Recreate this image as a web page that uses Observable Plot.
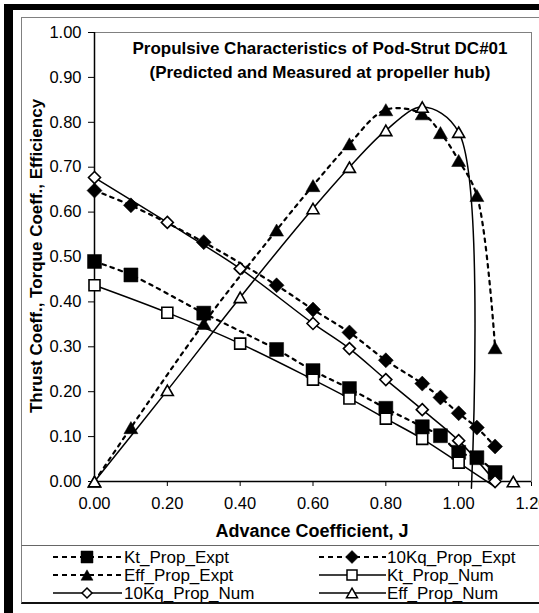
<!DOCTYPE html>
<html><head><meta charset="utf-8">
<script src="https://cdn.jsdelivr.net/npm/d3@7"></script>
<script src="https://cdn.jsdelivr.net/npm/@observablehq/plot@0.6"></script>
<style>
html,body{margin:0;padding:0;background:#fff;overflow:hidden;}
#wrap{position:relative;width:539px;height:613px;overflow:hidden;font-family:"Liberation Sans",Arial,sans-serif;color:#000;background:#fff;}
.abs{position:absolute;}
</style></head><body><div id="wrap"></div>
<script>
// ---- data ----
const xTicks = [0, 0.2, 0.4, 0.6, 0.8, 1.0, 1.2];
const yTicks = [0, 0.1, 0.2, 0.3, 0.4, 0.5, 0.6, 0.7, 0.8, 0.9, 1.0];

const J_expt    = [0, 0.1, 0.3, 0.5, 0.6, 0.7, 0.8, 0.9, 0.95, 1.0, 1.05, 1.1];
const Kt_expt   = [0.49, 0.46, 0.375, 0.294, 0.247, 0.207, 0.163, 0.122, 0.102, 0.065, 0.053, 0.02];
const Kq10_expt = [0.648, 0.615, 0.533, 0.437, 0.383, 0.332, 0.27, 0.218, 0.187, 0.152, 0.12, 0.078];
const Eff_expt  = [0, 0.12, 0.352, 0.56, 0.659, 0.752, 0.828, 0.819, 0.777, 0.715, 0.637, 0.298];

const J_num     = [0, 0.2, 0.4, 0.6, 0.7, 0.8, 0.9, 1.0, 1.1];
const Kt_num    = [0.437, 0.376, 0.307, 0.227, 0.185, 0.14, 0.095, 0.042, -0.012];
const Kq10_num  = [0.677, 0.577, 0.474, 0.352, 0.296, 0.227, 0.16, 0.091, 0.0];
const J_eff_num = [0, 0.2, 0.4, 0.6, 0.7, 0.8, 0.9, 1.0, 1.035];
const Eff_num   = [0, 0.203, 0.41, 0.608, 0.7, 0.782, 0.834, 0.778, -0.015];
const J_eff_num_end = [1.15];      // unconnected last point
const Eff_num_end   = [0];

const seriesNames = ["Kt_Prop_Expt", "10Kq_Prop_Expt", "Eff_Prop_Expt", "Kt_Prop_Num", "10Kq_Prop_Num", "Eff_Prop_Num"];

// ---- symbols ----
function mkSym(kind){
  return {draw(ctx, size){
    const r = Math.sqrt(size/Math.PI);
    if(kind==="square"){ctx.moveTo(-r,-r);ctx.lineTo(r,-r);ctx.lineTo(r,r);ctx.lineTo(-r,r);ctx.closePath();}
    else if(kind==="diamond"){ctx.moveTo(0,-r);ctx.lineTo(r,0);ctx.lineTo(0,r);ctx.lineTo(-r,0);ctx.closePath();}
    else {const h=1.732*r;ctx.moveTo(0,-h/2);ctx.lineTo(r,h/2);ctx.lineTo(-r,h/2);ctx.closePath();}
  }};
}
const style = {
  "Kt_Prop_Expt":  {dash:true,  sym:"square",  filled:true,  r:7,   lr:6},
  "10Kq_Prop_Expt":{dash:true,  sym:"diamond", filled:true,  r:7.5, lr:6.5},
  "Eff_Prop_Expt": {dash:true,  sym:"triangle",filled:true,  r:7,   lr:6},
  "Kt_Prop_Num":   {dash:false, sym:"square",  filled:false, r:5.5, lr:5},
  "10Kq_Prop_Num": {dash:false, sym:"diamond", filled:false, r:6,   lr:5},
  "Eff_Prop_Num":  {dash:false, sym:"triangle",filled:false, r:6,   lr:5.5}
};

function rowsOf(name, Js, vs, seg){ return Js.map((J,i)=>({name, seg:name+seg, J, v:vs[i]})); }
const rows = [
  ...rowsOf("Kt_Prop_Expt", J_expt, Kt_expt, 0),
  ...rowsOf("10Kq_Prop_Expt", J_expt, Kq10_expt, 0),
  ...rowsOf("Eff_Prop_Expt", J_expt, Eff_expt, 0),
  ...rowsOf("Kt_Prop_Num", J_num, Kt_num, 0),
  ...rowsOf("10Kq_Prop_Num", J_num, Kq10_num, 0),
  ...rowsOf("Eff_Prop_Num", J_eff_num, Eff_num, 0),
  ...rowsOf("Eff_Prop_Num", J_eff_num_end, Eff_num_end, 1)
];

const FONT = '"Liberation Sans", Arial, sans-serif';
const wrap = document.getElementById("wrap");
function div(css, html){const d=document.createElement("div");d.className="abs";d.style.cssText=css;if(html!=null)d.innerHTML=html;wrap.appendChild(d);return d;}

// frame decorations
div("left:4px;top:4px;width:600px;height:6px;background:#000;");
div("left:4px;top:4px;width:9px;height:620px;background:#000;");
div("left:21px;top:17px;width:620px;height:586px;border:1px solid #808080;box-sizing:border-box;");

const marks = [Plot.frame({stroke:"#808080", strokeWidth:1})];
for (const name of seriesNames){
  const s = style[name];
  const data = rows.filter(d=>d.name===name);
  marks.push(Plot.line(data, {x:"J", y:"v", z:"seg", curve:"catmull-rom", stroke:"black",
    strokeWidth: s.dash?2.2:1.5, strokeDasharray: s.dash?"3.5,5":null}));
}
marks.push(Plot.ruleX([0], {stroke:"black", strokeWidth:1.5}));
marks.push(Plot.ruleY([0], {stroke:"black", strokeWidth:1.5}));
for (const name of seriesNames){
  const s = style[name];
  const data = rows.filter(d=>d.name===name && d.v>=0);
  marks.push(Plot.dot(data, {x:"J", y:"v", symbol:mkSym(s.sym), r:s.r,
    fill: s.filled?"black":"white", stroke:"black", strokeWidth: s.filled?0.5:1.6}));
}

const chart = Plot.plot({
  width:539, height:613,
  marginLeft:94, marginRight:8, marginTop:32, marginBottom:132,
  x:{domain:[0,1.2], ticks:xTicks, tickFormat:d3.format(".2f"), tickSize:5, tickPadding:11, label:null},
  y:{domain:[0,1], ticks:yTicks, tickFormat:d3.format(".2f"), tickSize:6, tickPadding:7, label:null},
  style:{fontFamily:FONT, fontSize:"16.5px", background:"transparent", color:"black", overflow:"visible"},
  marks
});
chart.style.position="absolute"; chart.style.left="0px"; chart.style.top="0px";
wrap.appendChild(chart);

// titles
div(`left:120px;top:37px;width:400px;text-align:center;font:bold 17px ${FONT};line-height:23.5px;`,
  "Propulsive Characteristics of Pod-Strut DC#01<br>(Predicted and Measured at propeller hub)");
div(`left:112px;top:521px;width:400px;text-align:center;font:bold 18px ${FONT};line-height:20px;`, "Advance Coefficient, J");
div(`left:${37-220}px;top:${256-9}px;width:440px;height:18px;text-align:center;font:bold 17px ${FONT};line-height:18px;transform:rotate(-90deg);transform-origin:50% 50%;`,
  "Thrust Coeff., Torque Coeff., Efficiency");

// legend box
div("left:21px;top:545px;width:620px;height:59px;border-top:1px solid #666;border-left:1px solid #808080;border-bottom:2px solid #111;box-sizing:border-box;");

const legendCols = [
  ["Kt_Prop_Expt", 0, 0], ["10Kq_Prop_Expt", 1, 0],
  ["Eff_Prop_Expt", 0, 1], ["Kt_Prop_Num", 1, 1],
  ["10Kq_Prop_Num", 0, 2], ["Eff_Prop_Num", 1, 2]
];
const colX = [{x0:53, x1:122, mx:87, tx:124}, {x0:319, x1:386, mx:352, tx:387}];
const rowBase = [563, 581, 599];
const lg = d3.create("svg").attr("width",539).attr("height",613)
  .style("position","absolute").style("left","0px").style("top","0px").style("overflow","visible");
for (const [name, c, r] of legendCols){
  const s = style[name], cx = colX[c], yb = rowBase[r], yl = yb-6;
  lg.append("line").attr("x1",cx.x0).attr("x2",cx.x1).attr("y1",yl).attr("y2",yl)
    .attr("stroke","black").attr("stroke-width", s.dash?2.2:1.5).attr("stroke-dasharray", s.dash?"5,4":null);
  const p = d3.path(); mkSym(s.sym).draw(p, Math.PI*s.lr*s.lr);
  lg.append("path").attr("d", p.toString()).attr("transform",`translate(${cx.mx},${yl})`)
    .attr("fill", s.filled?"black":"white").attr("stroke","black").attr("stroke-width", s.filled?0.5:1.5);
  lg.append("text").attr("x",cx.tx).attr("y",yb).attr("font-family",FONT).attr("font-size","17px").text(name);
}
wrap.appendChild(lg.node());
</script>
</body></html>
